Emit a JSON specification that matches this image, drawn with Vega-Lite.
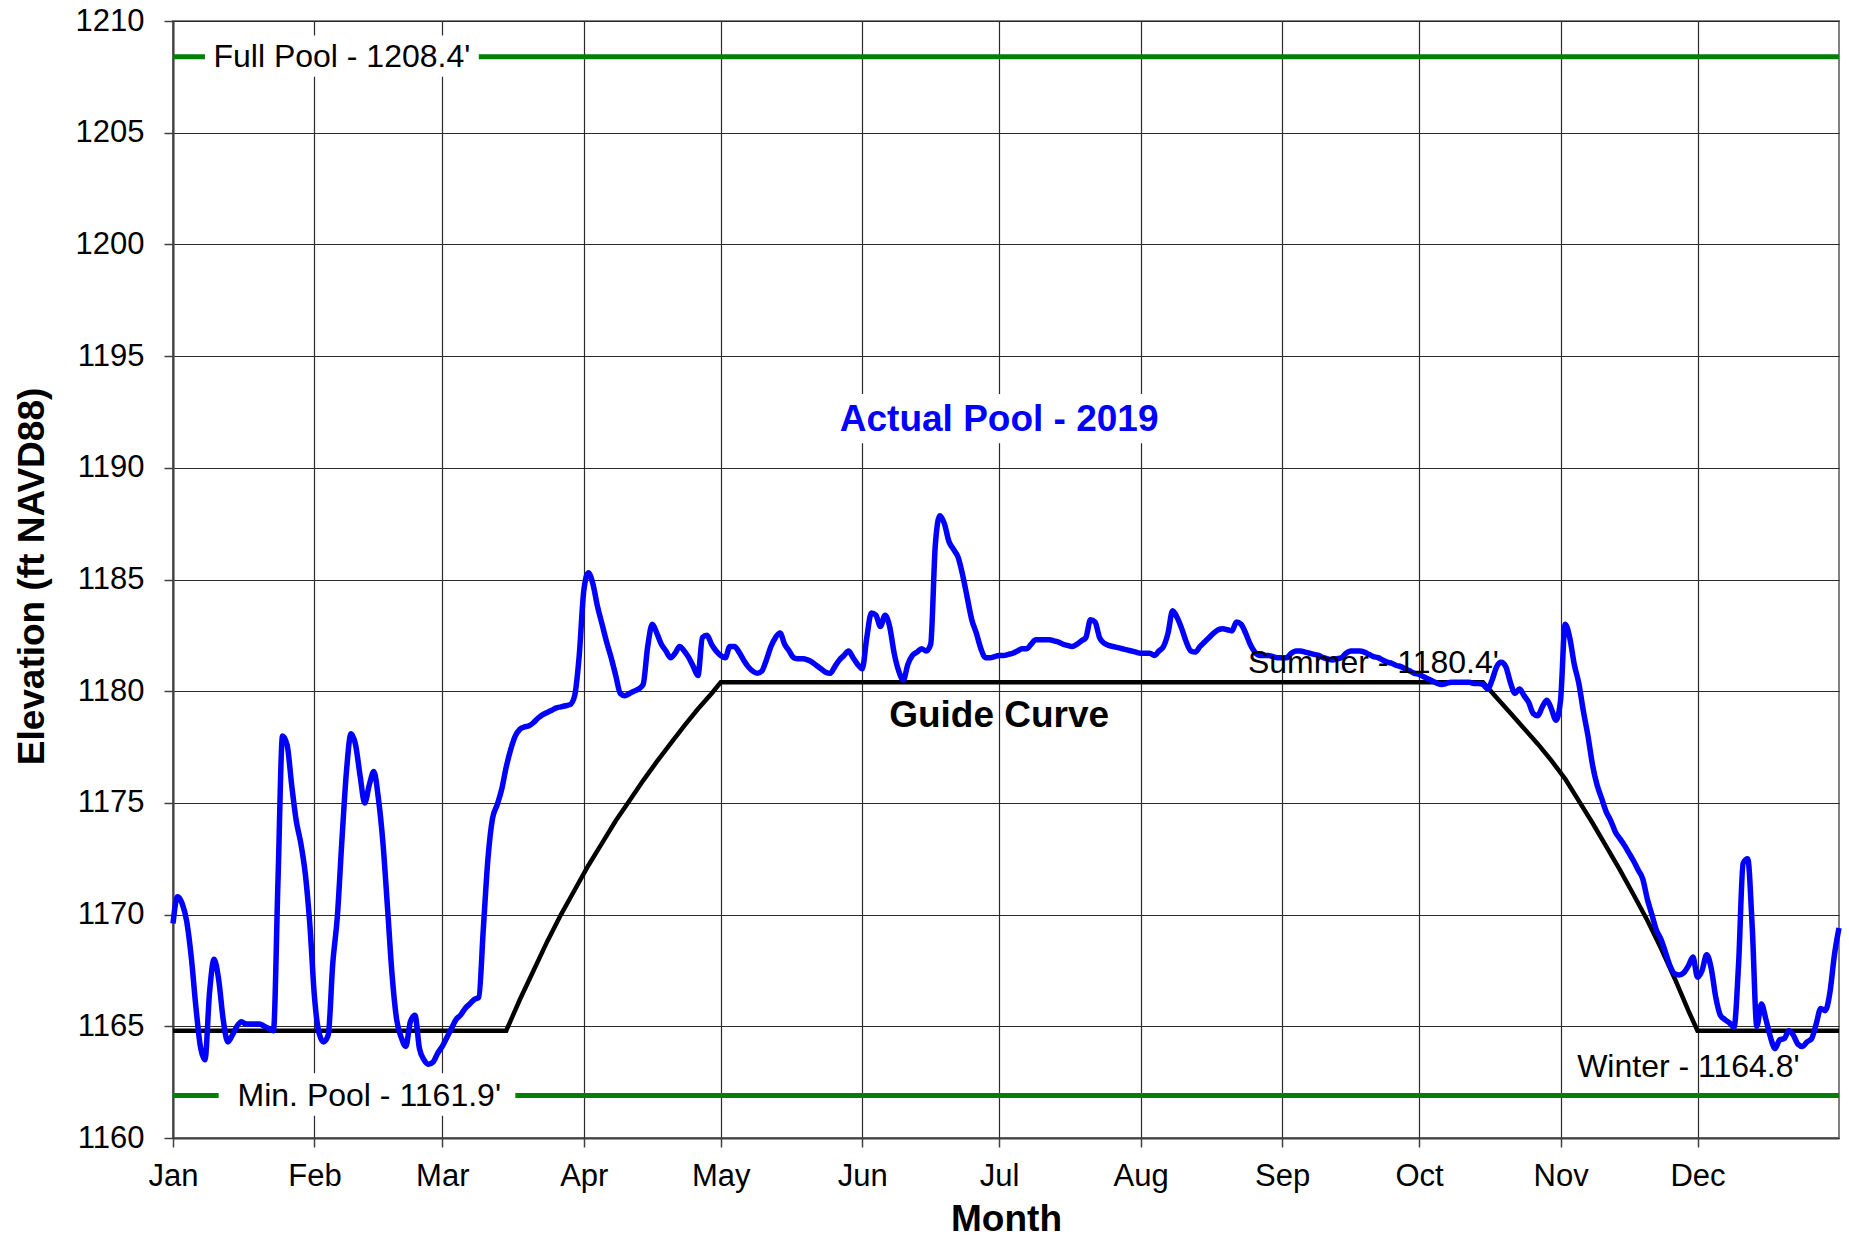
{
"$schema": "https://vega.github.io/schema/vega-lite/v6.json",
"width": 1666, "height": 1117,
"autosize": {"type": "none"},
"padding": {"left": 173, "top": 21, "right": 10, "bottom": 100},
"background": "white",
"config": {
"view": {"stroke": "#808080", "strokeWidth": 2},
"font": "Liberation Sans",
"axis": {
"titleFont": "Liberation Sans", "titleFontSize": 37, "titleFontWeight": "bold", "titleColor": "black",
"labelFont": "Liberation Sans", "labelFontSize": 31, "labelColor": "black", "labelOverlap": false,
"tickSize": 9, "tickColor": "#404040", "tickWidth": 1.5,
"domainColor": "#404040", "domainWidth": 2,
"grid": true, "gridColor": "#2a2a2a", "gridWidth": 1.2
},
"axisX": {"labelPadding": 14, "labelFlush": false, "titleBaseline": "alphabetic", "titleY": 92},
"axisY": {"labelPadding": 20, "titleBaseline": "alphabetic", "titleAngle": 270, "titleAlign": "center", "titleX": -130, "titleY": 555}
},
"datasets": {
"pools": [{"level": "Full Pool", "elev": 1208.4}, {"level": "Min. Pool", "elev": 1161.9}],
"boxes": [
{"date": "2019-01-08", "date2": "2019-03-09", "elev": 1207.5, "elev2": 1209.35},
{"date": "2019-01-11", "date2": "2019-03-17", "elev": 1161.0, "elev2": 1162.9},
{"date": "2019-05-24", "date2": "2019-08-07", "elev": 1191.1, "elev2": 1193.3}],
"guide": [
{"date":"2019-01-01","elev":1164.8},{"date":"2019-03-15","elev":1164.8},{"date":"2019-03-18","elev":1166.2},{"date":"2019-03-21","elev":1167.5},{"date":"2019-03-24","elev":1168.8},{"date":"2019-03-27","elev":1170.0},{"date":"2019-03-30","elev":1171.1},{"date":"2019-04-02","elev":1172.2},{"date":"2019-04-05","elev":1173.2},{"date":"2019-04-08","elev":1174.2},{"date":"2019-04-11","elev":1175.1},{"date":"2019-04-14","elev":1176.0},{"date":"2019-04-17","elev":1176.85},{"date":"2019-04-20","elev":1177.65},{"date":"2019-04-23","elev":1178.45},{"date":"2019-04-26","elev":1179.2},{"date":"2019-04-29","elev":1179.9},{"date":"2019-05-01","elev":1180.4},
{"date":"2019-10-15","elev":1180.4},{"date":"2019-10-18","elev":1179.71},{"date":"2019-10-21","elev":1179.02},{"date":"2019-10-24","elev":1178.33},{"date":"2019-10-27","elev":1177.64},{"date":"2019-10-30","elev":1176.89},{"date":"2019-11-02","elev":1176.08},{"date":"2019-11-05","elev":1175.09},{"date":"2019-11-08","elev":1174.1},{"date":"2019-11-11","elev":1173.05},{"date":"2019-11-14","elev":1172.0},{"date":"2019-11-17","elev":1170.89},{"date":"2019-11-20","elev":1169.75},{"date":"2019-11-23","elev":1168.49},{"date":"2019-11-26","elev":1167.14},{"date":"2019-11-29","elev":1165.7},{"date":"2019-12-01","elev":1164.8},{"date":"2020-01-01","elev":1164.8}],
"actual": [
{"date":"2019-01-01","elev":1169.6},{"date":"2019-01-02","elev":1170.8},{"date":"2019-01-03","elev":1170.5},{"date":"2019-01-04","elev":1169.7},{"date":"2019-01-05","elev":1168.1},{"date":"2019-01-06","elev":1165.9},{"date":"2019-01-07","elev":1164.1},{"date":"2019-01-08","elev":1163.5},{"date":"2019-01-09","elev":1166.5},{"date":"2019-01-10","elev":1168.0},{"date":"2019-01-11","elev":1167.1},{"date":"2019-01-12","elev":1165.3},{"date":"2019-01-13","elev":1164.3},{"date":"2019-01-14","elev":1164.6},{"date":"2019-01-15","elev":1165.0},{"date":"2019-01-16","elev":1165.2},{"date":"2019-01-17","elev":1165.1},{"date":"2019-01-18","elev":1165.1},{"date":"2019-01-19","elev":1165.1},{"date":"2019-01-20","elev":1165.1},{"date":"2019-01-21","elev":1165.0},{"date":"2019-01-22","elev":1164.9},{"date":"2019-01-23","elev":1164.8},{"date":"2019-01-24","elev":1171.5},{"date":"2019-01-25","elev":1178.0},{"date":"2019-01-26","elev":1177.6},{"date":"2019-01-27","elev":1175.8},{"date":"2019-01-28","elev":1174.2},{"date":"2019-01-29","elev":1173.2},{"date":"2019-01-30","elev":1171.8},{"date":"2019-01-31","elev":1169.5},
{"date":"2019-02-01","elev":1166.3},{"date":"2019-02-02","elev":1164.7},{"date":"2019-02-03","elev":1164.3},{"date":"2019-02-04","elev":1164.6},{"date":"2019-02-05","elev":1167.8},{"date":"2019-02-06","elev":1169.9},{"date":"2019-02-07","elev":1173.3},{"date":"2019-02-08","elev":1176.4},{"date":"2019-02-09","elev":1178.1},{"date":"2019-02-10","elev":1177.6},{"date":"2019-02-11","elev":1176.2},{"date":"2019-02-12","elev":1175.0},{"date":"2019-02-13","elev":1175.8},{"date":"2019-02-14","elev":1176.4},{"date":"2019-02-15","elev":1175.2},{"date":"2019-02-16","elev":1173.2},{"date":"2019-02-17","elev":1170.3},{"date":"2019-02-18","elev":1167.3},{"date":"2019-02-19","elev":1165.3},{"date":"2019-02-20","elev":1164.5},{"date":"2019-02-21","elev":1164.1},{"date":"2019-02-22","elev":1165.2},{"date":"2019-02-23","elev":1165.5},{"date":"2019-02-24","elev":1164.0},{"date":"2019-02-25","elev":1163.5},{"date":"2019-02-26","elev":1163.3},{"date":"2019-02-27","elev":1163.4},{"date":"2019-02-28","elev":1163.8},
{"date":"2019-03-01","elev":1164.1},{"date":"2019-03-02","elev":1164.5},{"date":"2019-03-03","elev":1164.9},{"date":"2019-03-04","elev":1165.3},{"date":"2019-03-05","elev":1165.5},{"date":"2019-03-06","elev":1165.8},{"date":"2019-03-07","elev":1166.0},{"date":"2019-03-08","elev":1166.2},{"date":"2019-03-09","elev":1166.3},{"date":"2019-03-10","elev":1169.4},{"date":"2019-03-11","elev":1172.5},{"date":"2019-03-12","elev":1174.3},{"date":"2019-03-13","elev":1174.9},{"date":"2019-03-14","elev":1175.6},{"date":"2019-03-15","elev":1176.6},{"date":"2019-03-16","elev":1177.4},{"date":"2019-03-17","elev":1178.0},{"date":"2019-03-18","elev":1178.3},{"date":"2019-03-19","elev":1178.4},{"date":"2019-03-20","elev":1178.45},{"date":"2019-03-21","elev":1178.6},{"date":"2019-03-22","elev":1178.8},{"date":"2019-03-23","elev":1178.95},{"date":"2019-03-24","elev":1179.05},{"date":"2019-03-25","elev":1179.15},{"date":"2019-03-26","elev":1179.25},{"date":"2019-03-27","elev":1179.3},{"date":"2019-03-28","elev":1179.35},{"date":"2019-03-29","elev":1179.4},{"date":"2019-03-30","elev":1179.8},{"date":"2019-03-31","elev":1181.6},
{"date":"2019-04-01","elev":1184.5},{"date":"2019-04-02","elev":1185.3},{"date":"2019-04-03","elev":1184.8},{"date":"2019-04-04","elev":1183.8},{"date":"2019-04-05","elev":1183.0},{"date":"2019-04-06","elev":1182.2},{"date":"2019-04-07","elev":1181.5},{"date":"2019-04-08","elev":1180.7},{"date":"2019-04-09","elev":1179.9},{"date":"2019-04-10","elev":1179.8},{"date":"2019-04-11","elev":1179.9},{"date":"2019-04-12","elev":1180.0},{"date":"2019-04-13","elev":1180.1},{"date":"2019-04-14","elev":1180.3},{"date":"2019-04-15","elev":1182.0},{"date":"2019-04-16","elev":1183.0},{"date":"2019-04-17","elev":1182.6},{"date":"2019-04-18","elev":1182.1},{"date":"2019-04-19","elev":1181.8},{"date":"2019-04-20","elev":1181.5},{"date":"2019-04-21","elev":1181.7},{"date":"2019-04-22","elev":1182.0},{"date":"2019-04-23","elev":1181.8},{"date":"2019-04-24","elev":1181.5},{"date":"2019-04-25","elev":1181.1},{"date":"2019-04-26","elev":1180.7},{"date":"2019-04-27","elev":1182.4},{"date":"2019-04-28","elev":1182.5},{"date":"2019-04-29","elev":1182.1},{"date":"2019-04-30","elev":1181.8},
{"date":"2019-05-01","elev":1181.6},{"date":"2019-05-02","elev":1181.5},{"date":"2019-05-03","elev":1182.0},{"date":"2019-05-04","elev":1182.0},{"date":"2019-05-05","elev":1181.75},{"date":"2019-05-06","elev":1181.4},{"date":"2019-05-07","elev":1181.1},{"date":"2019-05-08","elev":1180.9},{"date":"2019-05-09","elev":1180.8},{"date":"2019-05-10","elev":1180.9},{"date":"2019-05-11","elev":1181.4},{"date":"2019-05-12","elev":1182.0},{"date":"2019-05-13","elev":1182.4},{"date":"2019-05-14","elev":1182.6},{"date":"2019-05-15","elev":1182.1},{"date":"2019-05-16","elev":1181.8},{"date":"2019-05-17","elev":1181.5},{"date":"2019-05-18","elev":1181.45},{"date":"2019-05-19","elev":1181.45},{"date":"2019-05-20","elev":1181.4},{"date":"2019-05-21","elev":1181.3},{"date":"2019-05-22","elev":1181.15},{"date":"2019-05-23","elev":1181.0},{"date":"2019-05-24","elev":1180.85},{"date":"2019-05-25","elev":1180.8},{"date":"2019-05-26","elev":1181.1},{"date":"2019-05-27","elev":1181.4},{"date":"2019-05-28","elev":1181.6},{"date":"2019-05-29","elev":1181.8},{"date":"2019-05-30","elev":1181.5},{"date":"2019-05-31","elev":1181.2},
{"date":"2019-06-01","elev":1181.0},{"date":"2019-06-02","elev":1182.4},{"date":"2019-06-03","elev":1183.5},{"date":"2019-06-04","elev":1183.4},{"date":"2019-06-05","elev":1182.9},{"date":"2019-06-06","elev":1183.4},{"date":"2019-06-07","elev":1182.9},{"date":"2019-06-08","elev":1181.7},{"date":"2019-06-09","elev":1180.9},{"date":"2019-06-10","elev":1180.5},{"date":"2019-06-11","elev":1181.2},{"date":"2019-06-12","elev":1181.6},{"date":"2019-06-13","elev":1181.75},{"date":"2019-06-14","elev":1181.9},{"date":"2019-06-15","elev":1181.8},{"date":"2019-06-16","elev":1182.1},{"date":"2019-06-17","elev":1186.5},{"date":"2019-06-18","elev":1187.85},{"date":"2019-06-19","elev":1187.5},{"date":"2019-06-20","elev":1186.7},{"date":"2019-06-21","elev":1186.35},{"date":"2019-06-22","elev":1186.0},{"date":"2019-06-23","elev":1185.2},{"date":"2019-06-24","elev":1184.2},{"date":"2019-06-25","elev":1183.2},{"date":"2019-06-26","elev":1182.6},{"date":"2019-06-27","elev":1181.9},{"date":"2019-06-28","elev":1181.5},{"date":"2019-06-29","elev":1181.5},{"date":"2019-06-30","elev":1181.55},
{"date":"2019-07-01","elev":1181.6},{"date":"2019-07-02","elev":1181.6},{"date":"2019-07-03","elev":1181.65},{"date":"2019-07-04","elev":1181.7},{"date":"2019-07-05","elev":1181.8},{"date":"2019-07-06","elev":1181.9},{"date":"2019-07-07","elev":1181.9},{"date":"2019-07-08","elev":1182.1},{"date":"2019-07-09","elev":1182.3},{"date":"2019-07-10","elev":1182.3},{"date":"2019-07-11","elev":1182.3},{"date":"2019-07-12","elev":1182.3},{"date":"2019-07-13","elev":1182.25},{"date":"2019-07-14","elev":1182.2},{"date":"2019-07-15","elev":1182.1},{"date":"2019-07-16","elev":1182.05},{"date":"2019-07-17","elev":1182.0},{"date":"2019-07-18","elev":1182.1},{"date":"2019-07-19","elev":1182.25},{"date":"2019-07-20","elev":1182.4},{"date":"2019-07-21","elev":1183.2},{"date":"2019-07-22","elev":1183.1},{"date":"2019-07-23","elev":1182.4},{"date":"2019-07-24","elev":1182.15},{"date":"2019-07-25","elev":1182.05},{"date":"2019-07-26","elev":1182.0},{"date":"2019-07-27","elev":1181.95},{"date":"2019-07-28","elev":1181.9},{"date":"2019-07-29","elev":1181.85},{"date":"2019-07-30","elev":1181.8},{"date":"2019-07-31","elev":1181.75},
{"date":"2019-08-01","elev":1181.7},{"date":"2019-08-02","elev":1181.7},{"date":"2019-08-03","elev":1181.7},{"date":"2019-08-04","elev":1181.6},{"date":"2019-08-05","elev":1181.8},{"date":"2019-08-06","elev":1182.0},{"date":"2019-08-07","elev":1182.6},{"date":"2019-08-08","elev":1183.6},{"date":"2019-08-09","elev":1183.3},{"date":"2019-08-10","elev":1182.8},{"date":"2019-08-11","elev":1182.2},{"date":"2019-08-12","elev":1181.8},{"date":"2019-08-13","elev":1181.75},{"date":"2019-08-14","elev":1182.0},{"date":"2019-08-15","elev":1182.2},{"date":"2019-08-16","elev":1182.4},{"date":"2019-08-17","elev":1182.6},{"date":"2019-08-18","elev":1182.75},{"date":"2019-08-19","elev":1182.8},{"date":"2019-08-20","elev":1182.75},{"date":"2019-08-21","elev":1182.7},{"date":"2019-08-22","elev":1183.1},{"date":"2019-08-23","elev":1183.0},{"date":"2019-08-24","elev":1182.6},{"date":"2019-08-25","elev":1182.1},{"date":"2019-08-26","elev":1181.75},{"date":"2019-08-27","elev":1181.6},{"date":"2019-08-28","elev":1181.6},{"date":"2019-08-29","elev":1181.6},{"date":"2019-08-30","elev":1181.55},{"date":"2019-08-31","elev":1181.5},
{"date":"2019-09-01","elev":1181.5},{"date":"2019-09-02","elev":1181.5},{"date":"2019-09-03","elev":1181.7},{"date":"2019-09-04","elev":1181.8},{"date":"2019-09-05","elev":1181.8},{"date":"2019-09-06","elev":1181.75},{"date":"2019-09-07","elev":1181.7},{"date":"2019-09-08","elev":1181.65},{"date":"2019-09-09","elev":1181.6},{"date":"2019-09-10","elev":1181.5},{"date":"2019-09-11","elev":1181.45},{"date":"2019-09-12","elev":1181.4},{"date":"2019-09-13","elev":1181.45},{"date":"2019-09-14","elev":1181.5},{"date":"2019-09-15","elev":1181.7},{"date":"2019-09-16","elev":1181.8},{"date":"2019-09-17","elev":1181.8},{"date":"2019-09-18","elev":1181.8},{"date":"2019-09-19","elev":1181.75},{"date":"2019-09-20","elev":1181.65},{"date":"2019-09-21","elev":1181.55},{"date":"2019-09-22","elev":1181.5},{"date":"2019-09-23","elev":1181.4},{"date":"2019-09-24","elev":1181.3},{"date":"2019-09-25","elev":1181.25},{"date":"2019-09-26","elev":1181.15},{"date":"2019-09-27","elev":1181.1},{"date":"2019-09-28","elev":1181.0},{"date":"2019-09-29","elev":1180.9},{"date":"2019-09-30","elev":1180.8},
{"date":"2019-10-01","elev":1180.75},{"date":"2019-10-02","elev":1180.65},{"date":"2019-10-03","elev":1180.55},{"date":"2019-10-04","elev":1180.45},{"date":"2019-10-05","elev":1180.35},{"date":"2019-10-06","elev":1180.3},{"date":"2019-10-07","elev":1180.35},{"date":"2019-10-08","elev":1180.4},{"date":"2019-10-09","elev":1180.4},{"date":"2019-10-10","elev":1180.4},{"date":"2019-10-11","elev":1180.4},{"date":"2019-10-12","elev":1180.4},{"date":"2019-10-13","elev":1180.35},{"date":"2019-10-14","elev":1180.35},{"date":"2019-10-15","elev":1180.3},{"date":"2019-10-16","elev":1180.1},{"date":"2019-10-17","elev":1180.5},{"date":"2019-10-18","elev":1181.1},{"date":"2019-10-19","elev":1181.3},{"date":"2019-10-20","elev":1181.1},{"date":"2019-10-21","elev":1180.4},{"date":"2019-10-22","elev":1179.9},{"date":"2019-10-23","elev":1180.1},{"date":"2019-10-24","elev":1179.8},{"date":"2019-10-25","elev":1179.5},{"date":"2019-10-26","elev":1179.0},{"date":"2019-10-27","elev":1178.9},{"date":"2019-10-28","elev":1179.3},{"date":"2019-10-29","elev":1179.6},{"date":"2019-10-30","elev":1179.2},{"date":"2019-10-31","elev":1178.7},
{"date":"2019-11-01","elev":1179.6},{"date":"2019-11-02","elev":1183.0},{"date":"2019-11-03","elev":1182.4},{"date":"2019-11-04","elev":1181.2},{"date":"2019-11-05","elev":1180.35},{"date":"2019-11-06","elev":1179.1},{"date":"2019-11-07","elev":1178.0},{"date":"2019-11-08","elev":1176.7},{"date":"2019-11-09","elev":1175.8},{"date":"2019-11-10","elev":1175.2},{"date":"2019-11-11","elev":1174.6},{"date":"2019-11-12","elev":1174.2},{"date":"2019-11-13","elev":1173.7},{"date":"2019-11-14","elev":1173.4},{"date":"2019-11-15","elev":1173.1},{"date":"2019-11-16","elev":1172.75},{"date":"2019-11-17","elev":1172.4},{"date":"2019-11-18","elev":1172.0},{"date":"2019-11-19","elev":1171.6},{"date":"2019-11-20","elev":1170.7},{"date":"2019-11-21","elev":1170.0},{"date":"2019-11-22","elev":1169.3},{"date":"2019-11-23","elev":1168.9},{"date":"2019-11-24","elev":1168.3},{"date":"2019-11-25","elev":1167.7},{"date":"2019-11-26","elev":1167.35},{"date":"2019-11-27","elev":1167.3},{"date":"2019-11-28","elev":1167.4},{"date":"2019-11-29","elev":1167.7},{"date":"2019-11-30","elev":1168.1},
{"date":"2019-12-01","elev":1167.2},{"date":"2019-12-02","elev":1167.5},{"date":"2019-12-03","elev":1168.2},{"date":"2019-12-04","elev":1167.6},{"date":"2019-12-05","elev":1166.3},{"date":"2019-12-06","elev":1165.5},{"date":"2019-12-07","elev":1165.3},{"date":"2019-12-08","elev":1165.15},{"date":"2019-12-09","elev":1164.95},{"date":"2019-12-10","elev":1167.8},{"date":"2019-12-11","elev":1172.3},{"date":"2019-12-12","elev":1172.5},{"date":"2019-12-13","elev":1169.4},{"date":"2019-12-14","elev":1165.0},{"date":"2019-12-15","elev":1166.0},{"date":"2019-12-16","elev":1165.3},{"date":"2019-12-17","elev":1164.5},{"date":"2019-12-18","elev":1164.0},{"date":"2019-12-19","elev":1164.4},{"date":"2019-12-20","elev":1164.45},{"date":"2019-12-21","elev":1164.8},{"date":"2019-12-22","elev":1164.6},{"date":"2019-12-23","elev":1164.2},{"date":"2019-12-24","elev":1164.1},{"date":"2019-12-25","elev":1164.3},{"date":"2019-12-26","elev":1164.45},{"date":"2019-12-27","elev":1165.1},{"date":"2019-12-28","elev":1165.8},{"date":"2019-12-29","elev":1165.7},{"date":"2019-12-30","elev":1166.5},{"date":"2019-12-31","elev":1168.2},{"date":"2020-01-01","elev":1169.4}],
"poolLabels": [{"date": "2019-02-07", "elev": 1208.4, "label": "Full Pool - 1208.4'"}, {"date": "2019-02-13", "elev": 1161.9, "label": "Min. Pool - 1161.9'"}],
"seasonLabels": [{"date": "2019-09-21", "elev": 1180.83, "label": "Summer - 1180.4'"}, {"date": "2019-11-29", "elev": 1162.73, "label": "Winter - 1164.8'"}],
"actualLabel": [{"date": "2019-07-01", "elev": 1191.65, "label": "Actual Pool - 2019"}],
"guideLabel": [{"date": "2019-07-01", "elev": 1178.4, "label": "Guide Curve"}]
},
"layer": [
{
"data": {"name": "pools"},
"mark": {"type": "rule", "color": "#008000", "strokeWidth": 5},
"encoding": {
"y": {"field": "elev", "type": "quantitative", "title": "Elevation (ft NAVD88)",
"scale": {"domain": [1160, 1210], "nice": false, "zero": false},
"axis": {"values": [1160, 1165, 1170, 1175, 1180, 1185, 1190, 1195, 1200, 1205, 1210], "format": "d"}}
}
},
{
"data": {"name": "boxes"},
"mark": {"type": "rect", "color": "white", "opacity": 1},
"encoding": {
"x": {"field": "date", "type": "temporal", "title": "Month",
"scale": {"type": "utc", "domain": [{"year": 2019, "month": 1, "date": 1, "utc": true}, {"year": 2020, "month": 1, "date": 1, "utc": true}]},
"axis": {
"values": [{"year": 2019, "month": 1, "date": 1, "utc": true}, {"year": 2019, "month": 2, "date": 1, "utc": true}, {"year": 2019, "month": 3, "date": 1, "utc": true}, {"year": 2019, "month": 4, "date": 1, "utc": true}, {"year": 2019, "month": 5, "date": 1, "utc": true}, {"year": 2019, "month": 6, "date": 1, "utc": true}, {"year": 2019, "month": 7, "date": 1, "utc": true}, {"year": 2019, "month": 8, "date": 1, "utc": true}, {"year": 2019, "month": 9, "date": 1, "utc": true}, {"year": 2019, "month": 10, "date": 1, "utc": true}, {"year": 2019, "month": 11, "date": 1, "utc": true}, {"year": 2019, "month": 12, "date": 1, "utc": true}],
"format": "%b"}},
"x2": {"field": "date2"},
"y": {"field": "elev", "type": "quantitative", "title": "Elevation (ft NAVD88)", "scale": {"domain": [1160, 1210], "nice": false, "zero": false}, "axis": {"format": "d"}},
"y2": {"field": "elev2"}
}
},
{
"data": {"name": "guide"},
"mark": {"type": "line", "color": "black", "strokeWidth": 4.5, "strokeJoin": "miter"},
"encoding": {
"x": {"field": "date", "type": "temporal", "title": "Month", "scale": {"type": "utc", "domain": [{"year": 2019, "month": 1, "date": 1, "utc": true}, {"year": 2020, "month": 1, "date": 1, "utc": true}]}},
"y": {"field": "elev", "type": "quantitative", "title": "Elevation (ft NAVD88)", "scale": {"domain": [1160, 1210], "nice": false, "zero": false}, "axis": {"format": "d"}}
}
},
{
"data": {"name": "actual"},
"mark": {"type": "line", "color": "#0000FF", "strokeWidth": 5.5, "interpolate": "monotone"},
"encoding": {
"x": {"field": "date", "type": "temporal", "title": "Month", "scale": {"type": "utc", "domain": [{"year": 2019, "month": 1, "date": 1, "utc": true}, {"year": 2020, "month": 1, "date": 1, "utc": true}]}},
"y": {"field": "elev", "type": "quantitative", "title": "Elevation (ft NAVD88)", "scale": {"domain": [1160, 1210], "nice": false, "zero": false}, "axis": {"format": "d"}}
}
},
{
"data": {"name": "poolLabels"},
"mark": {"type": "text", "font": "Liberation Sans", "fontSize": 32, "color": "black", "align": "center", "baseline": "middle"},
"encoding": {
"x": {"field": "date", "type": "temporal", "title": "Month", "scale": {"type": "utc", "domain": [{"year": 2019, "month": 1, "date": 1, "utc": true}, {"year": 2020, "month": 1, "date": 1, "utc": true}]}},
"y": {"field": "elev", "type": "quantitative", "title": "Elevation (ft NAVD88)", "scale": {"domain": [1160, 1210], "nice": false, "zero": false}, "axis": {"format": "d"}},
"text": {"field": "label"}
}
},
{
"data": {"name": "seasonLabels"},
"mark": {"type": "text", "font": "Liberation Sans", "fontSize": 32, "color": "black", "align": "center", "baseline": "alphabetic"},
"encoding": {
"x": {"field": "date", "type": "temporal", "title": "Month", "scale": {"type": "utc", "domain": [{"year": 2019, "month": 1, "date": 1, "utc": true}, {"year": 2020, "month": 1, "date": 1, "utc": true}]}},
"y": {"field": "elev", "type": "quantitative", "title": "Elevation (ft NAVD88)", "scale": {"domain": [1160, 1210], "nice": false, "zero": false}, "axis": {"format": "d"}},
"text": {"field": "label"}
}
},
{
"data": {"name": "actualLabel"},
"mark": {"type": "text", "font": "Liberation Sans", "fontSize": 37, "fontWeight": "bold", "color": "#0000FF", "align": "center", "baseline": "alphabetic"},
"encoding": {
"x": {"field": "date", "type": "temporal", "title": "Month", "scale": {"type": "utc", "domain": [{"year": 2019, "month": 1, "date": 1, "utc": true}, {"year": 2020, "month": 1, "date": 1, "utc": true}]}},
"y": {"field": "elev", "type": "quantitative", "title": "Elevation (ft NAVD88)", "scale": {"domain": [1160, 1210], "nice": false, "zero": false}, "axis": {"format": "d"}},
"text": {"field": "label"}
}
},
{
"data": {"name": "guideLabel"},
"mark": {"type": "text", "font": "Liberation Sans", "fontSize": 37, "fontWeight": "bold", "color": "black", "align": "center", "baseline": "alphabetic"},
"encoding": {
"x": {"field": "date", "type": "temporal", "title": "Month", "scale": {"type": "utc", "domain": [{"year": 2019, "month": 1, "date": 1, "utc": true}, {"year": 2020, "month": 1, "date": 1, "utc": true}]}},
"y": {"field": "elev", "type": "quantitative", "title": "Elevation (ft NAVD88)", "scale": {"domain": [1160, 1210], "nice": false, "zero": false}, "axis": {"format": "d"}},
"text": {"field": "label"}
}
}
]
}
